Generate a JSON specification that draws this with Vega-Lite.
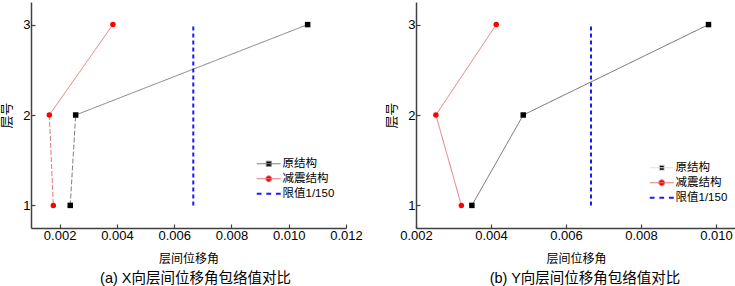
{
  "$schema": "https://vega.github.io/schema/vega-lite/v6.json",
  "padding": {"left": 0, "top": 2, "right": 0, "bottom": 0},
  "bounds": "flush",
  "spacing": 70,
  "datasets": {
    "pts": [
      {"p": "a", "s": "原结构", "floor": 1, "v": 0.00237},
      {"p": "a", "s": "原结构", "floor": 2, "v": 0.00256},
      {"p": "a", "s": "原结构", "floor": 3, "v": 0.01066},
      {"p": "a", "s": "减震结构", "floor": 1, "v": 0.00178},
      {"p": "a", "s": "减震结构", "floor": 2, "v": 0.00164},
      {"p": "a", "s": "减震结构", "floor": 3, "v": 0.00386},
      {"p": "b", "s": "原结构", "floor": 1, "v": 0.00349},
      {"p": "b", "s": "原结构", "floor": 2, "v": 0.00486},
      {"p": "b", "s": "原结构", "floor": 3, "v": 0.0098},
      {"p": "b", "s": "减震结构", "floor": 1, "v": 0.00321},
      {"p": "b", "s": "减震结构", "floor": 2, "v": 0.00253},
      {"p": "b", "s": "减震结构", "floor": 3, "v": 0.00414}
    ],
    "segs": [
      {"p": "a", "s": "原结构", "seg": "12", "d": "dash", "floor": 1, "v": 0.00237},
      {"p": "a", "s": "原结构", "seg": "12", "d": "dash", "floor": 2, "v": 0.00256},
      {"p": "a", "s": "原结构", "seg": "23", "d": "solid", "floor": 2, "v": 0.00256},
      {"p": "a", "s": "原结构", "seg": "23", "d": "solid", "floor": 3, "v": 0.01066},
      {"p": "a", "s": "减震结构", "seg": "12", "d": "dash", "floor": 1, "v": 0.00178},
      {"p": "a", "s": "减震结构", "seg": "12", "d": "dash", "floor": 2, "v": 0.00164},
      {"p": "a", "s": "减震结构", "seg": "23", "d": "solid", "floor": 2, "v": 0.00164},
      {"p": "a", "s": "减震结构", "seg": "23", "d": "solid", "floor": 3, "v": 0.00386},
      {"p": "a", "s": "限值1/150", "seg": "13", "d": "dash", "floor": 1, "v": 0.006667},
      {"p": "a", "s": "限值1/150", "seg": "13", "d": "dash", "floor": 3, "v": 0.006667},
      {"p": "b", "s": "原结构", "seg": "12", "d": "solid", "floor": 1, "v": 0.00349},
      {"p": "b", "s": "原结构", "seg": "12", "d": "solid", "floor": 2, "v": 0.00486},
      {"p": "b", "s": "原结构", "seg": "23", "d": "solid", "floor": 2, "v": 0.00486},
      {"p": "b", "s": "原结构", "seg": "23", "d": "solid", "floor": 3, "v": 0.0098},
      {"p": "b", "s": "减震结构", "seg": "12", "d": "solid", "floor": 1, "v": 0.00321},
      {"p": "b", "s": "减震结构", "seg": "12", "d": "solid", "floor": 2, "v": 0.00253},
      {"p": "b", "s": "减震结构", "seg": "23", "d": "solid", "floor": 2, "v": 0.00253},
      {"p": "b", "s": "减震结构", "seg": "23", "d": "solid", "floor": 3, "v": 0.00414},
      {"p": "b", "s": "限值1/150", "seg": "13", "d": "dash", "floor": 1, "v": 0.006667},
      {"p": "b", "s": "限值1/150", "seg": "13", "d": "dash", "floor": 3, "v": 0.006667}
    ]
  },
  "config": {
    "view": {"stroke": null},
    "concat": {"spacing": 70},
    "font": "Liberation Sans, Noto Sans CJK SC, sans-serif",
    "axis": {
      "grid": false,
      "domainColor": "#404040",
      "domainWidth": 1.5,
      "tickColor": "#404040",
      "tickSize": -4,
      "tickWidth": 1.2,
      "labelFontSize": 13,
      "labelFlush": false,
      "labelColor": "#000000",
      "labelFont": "Liberation Sans, Noto Sans CJK SC, sans-serif",
      "titleFont": "Liberation Sans, Noto Sans CJK SC, sans-serif",
      "titleFontWeight": "normal",
      "titleColor": "#000000"
    },
    "legend": {
      "orient": "none",
      "title": null,
      "labelFont": "Liberation Sans, Noto Sans CJK SC, sans-serif",
      "labelFontSize": 11.5,
      "labelColor": "#000000",
      "labelOffset": 8,
      "rowPadding": 2,
      "symbolSize": 576,
      "padding": 0,
      "symbolStrokeWidth": 1,
      "symbolOpacity": 1
    },
    "title": {"font": "Liberation Sans, Noto Sans CJK SC, sans-serif", "fontWeight": "normal", "color": "#000000"}
  },
  "resolve": {
    "scale": {"fill": "independent", "stroke": "independent", "shape": "independent"},
    "legend": {"fill": "independent", "stroke": "independent", "shape": "independent"}
  },
  "hconcat": [
    {
      "width": 315,
      "height": 226,
      "title": {"text": "(a) X向层间位移角包络值对比", "orient": "bottom", "fontSize": 14.5, "offset": 8, "dx": 7},
      "encoding": {
        "x": {"field": "v", "type": "quantitative", "scale": {"domain": [0.001, 0.012], "zero": false, "nice": false},
          "axis": {"values": [0.002, 0.004, 0.006, 0.008, 0.01, 0.012], "format": ".3f", "title": "层间位移角", "titleFontSize": 12, "labelPadding": 5, "titlePadding": 11}},
        "y": {"field": "floor", "type": "quantitative", "scale": {"domain": [0.75, 3.25], "nice": false, "zero": false},
          "axis": {"values": [1, 2, 3], "format": "d", "title": "层号", "titleFontSize": 13, "labelPadding": 5, "titlePadding": 9}}
      },
      "layer": [
        {
          "data": {"name": "segs"},
          "transform": [{"filter": "datum.p === 'a'"}],
          "mark": {"type": "line"},
          "encoding": {
            "detail": [{"field": "s"}, {"field": "seg"}],
            "color": {"condition": [{"test": "datum.s === '原结构'", "value": "#808080"}, {"test": "datum.s === '减震结构'", "value": "#e07a7a"}], "value": "#1a1aff"},
            "strokeDash": {"condition": [{"test": "datum.s === '限值1/150'", "value": [4, 3]}, {"test": "datum.d === 'dash'", "value": [5, 2]}], "value": [1, 0]},
            "strokeWidth": {"condition": {"test": "datum.s === '限值1/150'", "value": 2}, "value": 1}
          }
        },
        {
          "data": {"name": "pts"},
          "transform": [{"filter": "datum.p === 'a'"}],
          "mark": {"type": "point", "filled": true, "opacity": 1, "size": 30},
          "encoding": {
            "shape": {"condition": {"test": "datum.s === '原结构'", "value": "square"}, "value": "circle"},
            "fill": {"condition": {"test": "datum.s === '原结构'", "value": "#000000"}, "value": "#ff0000"}
          }
        },
        {
          "data": {"name": "pts"},
          "transform": [{"filter": "datum.floor > 99"}],
          "mark": {"type": "point", "filled": true, "opacity": 1, "size": 576},
          "encoding": {
            "fill": {"field": "s", "type": "nominal", "scale": {"domain": ["原结构", "减震结构", "限值1/150"], "range": ["#000000", "#ff0000", "#1a1aff"]},
              "legend": {"legendX": 232, "legendY": 156, "encode": {"symbols": {"update": {"strokeWidth": {"signal": "datum.value === '限值1/150' ? 2 : 1"}}}}}},
            "stroke": {"field": "s", "type": "nominal", "scale": {"domain": ["原结构", "减震结构", "限值1/150"], "range": ["#808080", "#e07a7a", "#1a1aff"]},
              "legend": {"legendX": 232, "legendY": 156, "encode": {"symbols": {"update": {"strokeWidth": {"signal": "datum.value === '限值1/150' ? 2 : 1"}}}}}},
            "shape": {"field": "s", "type": "nominal", "scale": {"domain": ["原结构", "减震结构", "限值1/150"], "range": ["M-1,0H1M-0.21,-0.21H0.21V0.21H-0.21Z", "M-1,0H1M-0.25,0A0.25,0.25,0,1,1,0.25,0A0.25,0.25,0,1,1,-0.25,0Z", "M-1,0H-0.6M-0.2,0H0.2M0.6,0H1"]},
              "legend": {"legendX": 232, "legendY": 156, "encode": {"symbols": {"update": {"strokeWidth": {"signal": "datum.value === '限值1/150' ? 2 : 1"}}}}}}
          }
        }
      ]
    },
    {
      "width": 320,
      "height": 226,
      "title": {"text": "(b) Y向层间位移角包络值对比", "orient": "bottom", "fontSize": 14.5, "offset": 8, "dx": 9},
      "encoding": {
        "x": {"field": "v", "type": "quantitative", "scale": {"domain": [0.002, 0.0105333], "zero": false, "nice": false},
          "axis": {"values": [0.002, 0.004, 0.006, 0.008, 0.01], "format": ".3f", "title": "层间位移角", "titleFontSize": 12, "labelPadding": 5, "titlePadding": 11}},
        "y": {"field": "floor", "type": "quantitative", "scale": {"domain": [0.75, 3.25], "nice": false, "zero": false},
          "axis": {"values": [1, 2, 3], "format": "d", "title": "层号", "titleFontSize": 13, "labelPadding": 5, "titlePadding": 9}}
      },
      "layer": [
        {
          "data": {"name": "segs"},
          "transform": [{"filter": "datum.p === 'b'"}],
          "mark": {"type": "line"},
          "encoding": {
            "detail": [{"field": "s"}, {"field": "seg"}],
            "color": {"condition": [{"test": "datum.s === '原结构'", "value": "#6a6a6a"}, {"test": "datum.s === '减震结构'", "value": "#e07a7a"}], "value": "#1a1aff"},
            "strokeDash": {"condition": [{"test": "datum.s === '限值1/150'", "value": [4, 3]}, {"test": "datum.d === 'dash'", "value": [5, 2]}], "value": [1, 0]},
            "strokeWidth": {"condition": {"test": "datum.s === '限值1/150'", "value": 2}, "value": 1}
          }
        },
        {
          "data": {"name": "pts"},
          "transform": [{"filter": "datum.p === 'b'"}],
          "mark": {"type": "point", "filled": true, "opacity": 1, "size": 30},
          "encoding": {
            "shape": {"condition": {"test": "datum.s === '原结构'", "value": "square"}, "value": "circle"},
            "fill": {"condition": {"test": "datum.s === '原结构'", "value": "#000000"}, "value": "#ff0000"}
          }
        },
        {
          "data": {"name": "pts"},
          "transform": [{"filter": "datum.floor > 99"}],
          "mark": {"type": "point", "filled": true, "opacity": 1, "size": 576},
          "encoding": {
            "fill": {"field": "s", "type": "nominal", "scale": {"domain": ["原结构", "减震结构", "限值1/150"], "range": ["#000000", "#ff0000", "#1a1aff"]},
              "legend": {"legendX": 240, "legendY": 160, "encode": {"symbols": {"update": {"strokeWidth": {"signal": "datum.value === '限值1/150' ? 2 : 1"}}}}}},
            "stroke": {"field": "s", "type": "nominal", "scale": {"domain": ["原结构", "减震结构", "限值1/150"], "range": ["#e0e0e0", "#e07a7a", "#1a1aff"]},
              "legend": {"legendX": 240, "legendY": 160, "encode": {"symbols": {"update": {"strokeWidth": {"signal": "datum.value === '限值1/150' ? 2 : 1"}}}}}},
            "shape": {"field": "s", "type": "nominal", "scale": {"domain": ["原结构", "减震结构", "限值1/150"], "range": ["M-1,0H1M-0.21,-0.21H0.21V0.21H-0.21Z", "M-1,0H1M-0.25,0A0.25,0.25,0,1,1,0.25,0A0.25,0.25,0,1,1,-0.25,0Z", "M-1,0H-0.6M-0.2,0H0.2M0.6,0H1"]},
              "legend": {"legendX": 240, "legendY": 160, "encode": {"symbols": {"update": {"strokeWidth": {"signal": "datum.value === '限值1/150' ? 2 : 1"}}}}}}
          }
        }
      ]
    }
  ]
}
